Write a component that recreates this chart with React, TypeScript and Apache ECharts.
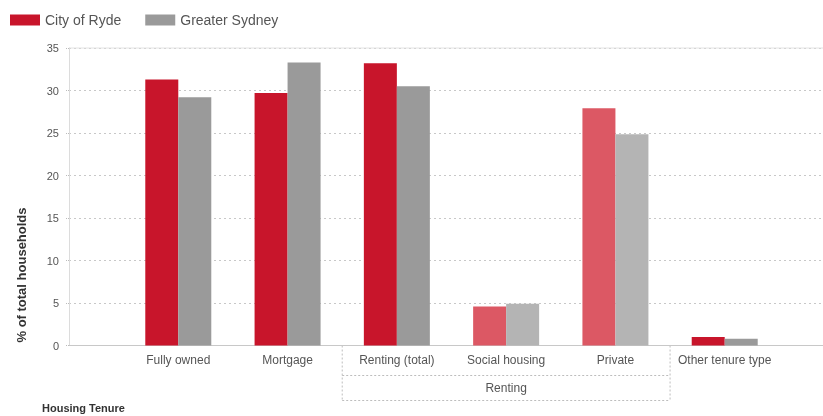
import React, { useEffect, useRef } from "react";
import * as echarts from "echarts";

const categories = ["", "Fully owned", "Mortgage", "Renting (total)", "Social housing", "Private", "Other tenure type", ""];
const ryde = [null, 31.3, 29.7, 33.2, 4.6, 27.9, 1.0, null];
const sydney = [null, 29.2, 33.3, 30.5, 4.9, 24.85, 0.8, null];
const lightCategories = ["Social housing", "Private"];
const groupName = "Renting";
const groupMembers = ["Renting (total)", "Social housing", "Private"];
const seriesNames = ["City of Ryde", "Greater Sydney"];
const yTicks = [0, 5, 10, 15, 20, 25, 30, 35];

const RED = "#c8152b";
const RED_LIGHT = "#dc5864";
const GREY = "#9a9a9a";
const GREY_LIGHT = "#b4b4b4";
const FONT = "Liberation Sans, Arial, sans-serif";

export default function App() {
  const ref = useRef<HTMLDivElement>(null);
  useEffect(() => {
    if (!ref.current) return;
    const chart = echarts.init(ref.current, null, { renderer: "svg" });
    const mk = (vals: (number | null)[], light: string) =>
      vals.map((v, i) =>
        v == null ? null : lightCategories.includes(categories[i]) ? { value: v, itemStyle: { color: light } } : v
      );
    chart.setOption({
      animation: false,
      textStyle: { fontFamily: FONT },
      legend: {
        left: 5,
        top: 8,
        itemWidth: 30,
        itemHeight: 11,
        itemGap: 24,
        icon: "rect",
        textStyle: { fontSize: 14, color: "#555", fontFamily: FONT },
        data: seriesNames,
      },
      grid: { left: 69, width: 765, top: 48, bottom: 70.5, outerBoundsMode: "none", containLabel: false },
      xAxis: {
        type: "category",
        data: categories,
        boundaryGap: false,
        axisLine: { lineStyle: { color: "#c8c8c8" } },
        axisTick: { show: false },
        axisLabel: { fontSize: 12, color: "#555", margin: 8, interval: 0, fontFamily: FONT },
        splitLine: { show: false },
      },
      yAxis: {
        type: "value",
        min: 0,
        max: 35,
        interval: 5,
        axisLine: { show: true, lineStyle: { color: "#dcdcdc" } },
        axisTick: { show: true, length: 4, lineStyle: { color: "#bbb", type: "dotted" } },
        axisLabel: { fontSize: 11, color: "#555", margin: 10, fontFamily: FONT },
        splitLine: { lineStyle: { color: "#c8c8c8", type: [2, 3] } },
      },
      series: [
        {
          name: seriesNames[0],
          type: "bar",
          barWidth: 33,
          barGap: "0%",
          itemStyle: { color: RED },
          data: mk(ryde, RED_LIGHT),
        },
        {
          name: seriesNames[1],
          type: "bar",
          barWidth: 33,
          barGap: "0%",
          itemStyle: { color: GREY },
          data: mk(sydney, GREY_LIGHT),
        },
      ],
    });

    const px = (cat: string) => chart.convertToPixel({ xAxisIndex: 0 }, cat) as number;
    const py = (v: number) => chart.convertToPixel({ yAxisIndex: 0 }, v) as number;
    const firstIdx = categories.indexOf(groupMembers[0]);
    const lastIdx = categories.indexOf(groupMembers[groupMembers.length - 1]);
    const xl = (px(categories[firstIdx - 1]) + px(categories[firstIdx])) / 2;
    const xr = (px(categories[lastIdx]) + px(categories[lastIdx + 1])) / 2;
    const y0 = py(yTicks[0]);
    const yTop = py(yTicks[yTicks.length - 1]);
    const yMid = y0 + 30;
    const yBot = y0 + 55;
    const dot = { stroke: "#bdbdbd", lineWidth: 1, lineDash: [2, 2] };
    chart.setOption({
      graphic: [
        { type: "line", shape: { x1: 69, y1: yTop, x2: 823, y2: yTop }, style: { stroke: "#e2e2e2", lineWidth: 1 } },
        { type: "line", shape: { x1: xl, y1: y0, x2: xl, y2: yBot }, style: dot },
        { type: "line", shape: { x1: xr, y1: y0, x2: xr, y2: yBot }, style: dot },
        { type: "line", shape: { x1: xl, y1: yMid, x2: xr, y2: yMid }, style: dot },
        { type: "line", shape: { x1: xl, y1: yBot, x2: xr, y2: yBot }, style: dot },
        {
          type: "text",
          x: (xl + xr) / 2,
          y: (yMid + yBot) / 2,
          style: { text: groupName, fontSize: 12, fill: "#555", align: "center", verticalAlign: "middle", fontFamily: FONT },
        },
        {
          type: "text",
          x: 21,
          y: 275,
          rotation: Math.PI / 2,
          style: {
            text: "% of total households",
            fontSize: 13,
            fontWeight: "bold",
            fill: "#333",
            align: "center",
            verticalAlign: "middle",
            fontFamily: FONT,
          },
        },
        {
          type: "text",
          x: 42,
          y: 408,
          style: { text: "Housing Tenure", fontSize: 11, fontWeight: "bold", fill: "#333", align: "left", verticalAlign: "middle", fontFamily: FONT },
        },
      ],
    });
    return () => chart.dispose();
  }, []);
  return <div ref={ref} style={{ position: "fixed", left: 0, top: 0, width: 823, height: 416 }} />;
}
